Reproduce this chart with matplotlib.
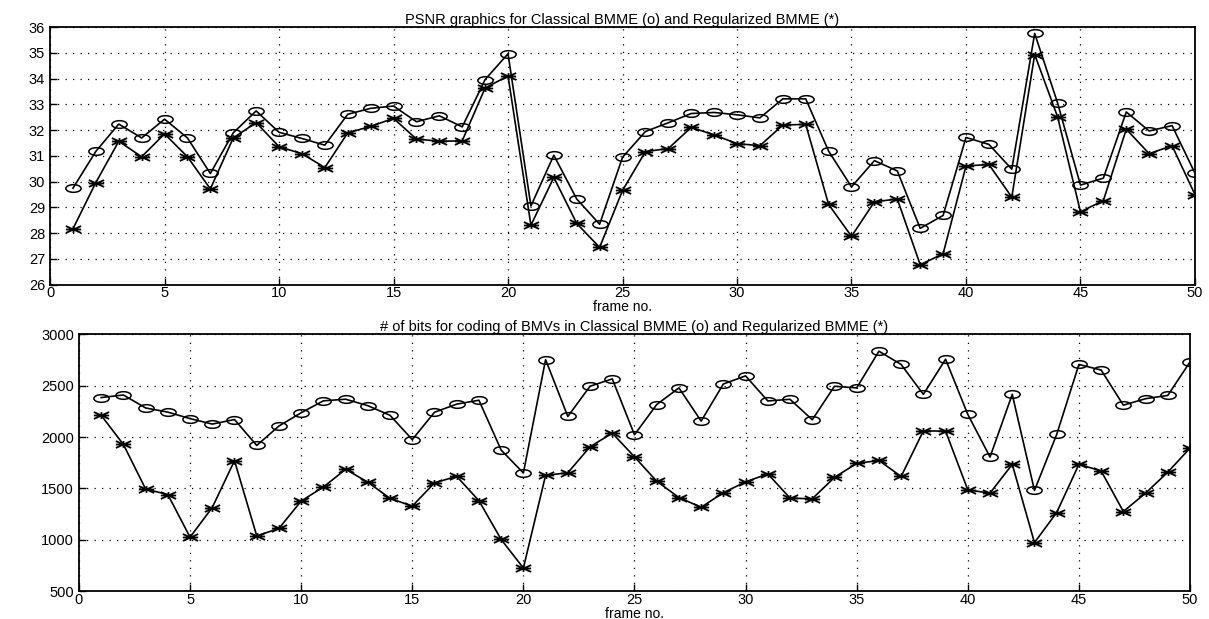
import numpy as np
from matplotlib import pyplot as plt
from matplotlib.path import Path
from matplotlib.transforms import Affine2D
from matplotlib import rcParams

rcParams['font.family'] = ['Liberation Sans', 'DejaVu Sans']

frames = np.arange(1, 51)

psnr_classical = [29.75, 31.18, 32.24, 31.7, 32.43, 31.7, 30.32, 31.9, 32.75, 31.92,
                  31.68, 31.42, 32.62, 32.85, 32.94, 32.33, 32.56, 32.13, 33.97, 34.97,
                  29.06, 31.03, 29.33, 28.35, 30.95, 31.95, 32.29, 32.65, 32.69, 32.6,
                  32.48, 33.22, 33.22, 31.19, 29.8, 30.82, 30.42, 28.19, 28.69, 31.72,
                  31.45, 30.49, 35.76, 33.06, 29.87, 30.14, 32.71, 31.97, 32.18, 30.33]
psnr_regular = [28.17, 29.97, 31.57, 30.97, 31.86, 30.97, 29.72, 31.7, 32.3, 31.36,
                31.09, 30.55, 31.9, 32.15, 32.46, 31.66, 31.57, 31.59, 33.64, 34.11,
                28.31, 30.17, 28.38, 27.45, 29.66, 31.17, 31.29, 32.11, 31.82, 31.48,
                31.4, 32.2, 32.23, 29.12, 27.88, 29.22, 29.33, 26.78, 27.2, 30.61,
                30.67, 29.4, 34.94, 32.52, 28.83, 29.27, 32.04, 31.09, 31.4, 29.5]

bits_classical = [2384, 2409, 2283, 2242, 2179, 2126, 2170, 1918, 2107, 2236,
                  2352, 2368, 2305, 2211, 1975, 2241, 2320, 2358, 1873, 1650,
                  2753, 2200, 2494, 2566, 2022, 2316, 2478, 2155, 2516, 2595,
                  2351, 2367, 2168, 2494, 2478, 2835, 2706, 2415, 2757, 2220,
                  1805, 2415, 1480, 2025, 2706, 2652, 2310, 2373, 2405, 2731]
bits_regular = [2211, 1928, 1494, 1440, 1025, 1314, 1770, 1038, 1110, 1377,
                1513, 1686, 1560, 1403, 1327, 1554, 1617, 1380, 1003, 725,
                1627, 1652, 1905, 2038, 1807, 1570, 1411, 1316, 1459, 1563,
                1642, 1405, 1399, 1607, 1743, 1772, 1616, 2060, 2057, 1485,
                1454, 1734, 972, 1265, 1734, 1670, 1275, 1454, 1658, 1892]

# squashed circle and asterisk, like the scanned matlab markers
circ = Path.unit_circle().transformed(Affine2D().scale(1.0, 0.5))
ast = Path([(-1, 0), (1, 0), (-1, -0.45), (1, 0.45), (-1, 0.45), (1, -0.45), (0, -0.45), (0, 0.45)],
           [Path.MOVETO, Path.LINETO] * 4)

fig = plt.figure(figsize=(12.09, 6.19), dpi=100)
ax1 = fig.add_axes([0.0414, 0.54, 0.947, 0.416])
ax2 = fig.add_axes([0.0653, 0.045, 0.919, 0.415])

line_kw = dict(color='black', lw=1.2)
ax1.plot(frames, psnr_classical, marker=circ, ms=11, mfc='none', mec='black', mew=1.1, **line_kw)
ax1.plot(frames, psnr_regular, marker=ast, ms=11, mec='black', mew=1.3, **line_kw)
ax2.plot(frames, bits_classical, marker=circ, ms=11, mfc='none', mec='black', mew=1.1, **line_kw)
ax2.plot(frames, bits_regular, marker=ast, ms=11, mec='black', mew=1.3, **line_kw)

ax1.set_xlim(0, 50)
ax1.set_ylim(26, 36)
ax1.set_yticks(np.arange(26, 37, 1))
ax2.set_xlim(0, 50)
ax2.set_ylim(500, 3000)
ax2.set_yticks(np.arange(500, 3001, 500))

ax1.set_title('PSNR graphics for Classical BMME (o) and Regularized BMME (*)', fontsize=10.5, pad=2)
ax2.set_title('# of bits for coding of BMVs in Classical BMME (o) and Regularized BMME (*)', fontsize=10.5, pad=2)

for ax in (ax1, ax2):
    ax.set_xticks(np.arange(0, 51, 5))
    ax.set_xlabel('frame no.', fontsize=10, labelpad=0)
    ax.grid(True, ls=(0, (1, 5)), color='black', lw=0.9)
    ax.tick_params(direction='in', length=5, labelsize=10.5, width=1)
    ax.tick_params(axis='x', pad=1)
    for s in ax.spines.values():
        s.set_linewidth(1.3)

fig.savefig('out.png', dpi=100)
